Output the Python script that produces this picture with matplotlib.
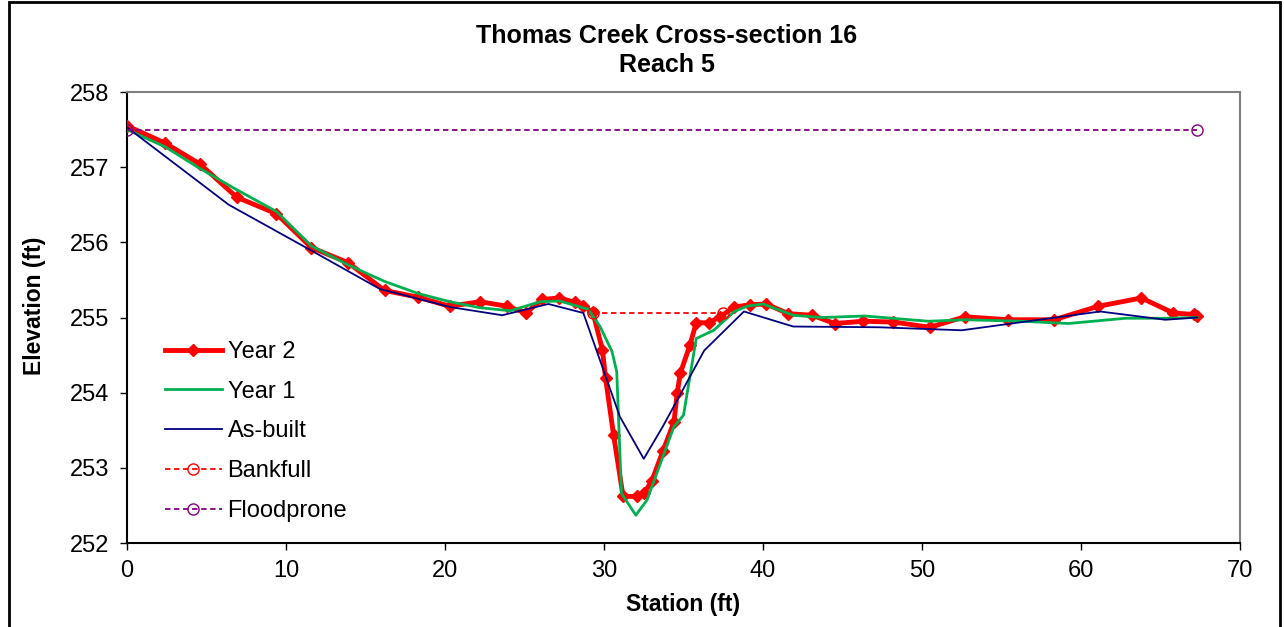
import matplotlib
matplotlib.use("Agg")
import matplotlib.pyplot as plt
from matplotlib.patches import Rectangle

plt.rcParams['font.family'] = ['Liberation Sans', 'DejaVu Sans']

# Year 2 survey
x_year2 = [0, 2.4, 4.6, 6.9, 9.4, 11.6, 13.9, 16.2, 18.3, 20.3, 22.2, 23.9, 25.1,
           26.1, 27.2, 28.2, 28.7, 29.3, 29.9, 30.1, 30.6, 31.2, 32.1, 32.5, 33.0,
           33.7, 34.4, 34.6, 34.8, 35.4, 35.8, 36.6, 37.3, 38.2, 39.2, 40.2, 41.6,
           43.1, 44.5, 46.3, 48.2, 50.5, 52.7, 55.4, 58.3, 61.1, 63.8, 65.8, 67.1, 67.3]
y_year2 = [257.55, 257.32, 257.04, 256.60, 256.38, 255.93, 255.73, 255.36, 255.27,
           255.15, 255.21, 255.15, 255.06, 255.24, 255.26, 255.20, 255.15, 255.07,
           254.57, 254.19, 253.44, 252.62, 252.62, 252.66, 252.82, 253.22, 253.61,
           253.99, 254.26, 254.63, 254.93, 254.93, 255.01, 255.14, 255.17, 255.18,
           255.05, 255.03, 254.92, 254.95, 254.94, 254.87, 255.01, 254.97, 254.97,
           255.15, 255.26, 255.06, 255.04, 255.02]

# Year 1 survey
x_year1 = [0, 2.4, 4.6, 6.9, 9.4, 11.6, 13.9, 16.2, 18.3, 20.3, 22.2, 24.1, 26.0,
           27.2, 29.0, 29.75, 30.5, 30.8, 31.1, 32.0, 32.7, 34.4, 35.0, 35.8, 36.9,
           38.2, 39.0, 40.0, 41.9, 43.7, 46.4, 50.4, 52.7, 56.3, 59.2, 62.8, 65.2, 67.3]
y_year1 = [257.50, 257.27, 256.98, 256.70, 256.41, 255.95, 255.70, 255.48, 255.32,
           255.21, 255.13, 255.09, 255.21, 255.22, 255.11, 254.88, 254.55, 254.28,
           252.66, 252.37, 252.57, 253.55, 253.70, 254.72, 254.83, 255.08, 255.15,
           255.18, 255.03, 255.00, 255.02, 254.95, 254.97, 254.95, 254.92, 254.99,
           254.99, 255.00]

# As-built survey
x_asbuilt = [0, 6.4, 11.6, 15.9, 20.3, 23.6, 26.5, 28.7, 31.0, 32.5, 33.7, 36.3,
             38.8, 41.9, 47.3, 52.5, 61.2, 65.3, 67.3]
y_asbuilt = [257.53, 256.50, 255.89, 255.38, 255.14, 255.03, 255.18, 255.06, 253.68,
             253.12, 253.55, 254.56, 255.08, 254.88, 254.87, 254.83, 255.08, 254.97, 255.00]

x_bankfull = [29.3, 37.5]
y_bankfull = [255.06, 255.06]
x_flood = [0, 67.3]
y_flood = [257.5, 257.5]

W, H = 1284, 627
fig = plt.figure(figsize=(W / 100, H / 100), dpi=100)
ax = fig.add_axes([127 / W, 1 - 543 / H, (1240 - 127) / W, (543 - 92) / H])

ax.plot(x_year2, y_year2, color='#FF0000', lw=3.5, marker='D', ms=6,
        label='Year 2', zorder=3)
ax.plot(x_year1, y_year1, color='#00B050', lw=2.0, label='Year 1', zorder=4)
ax.plot(x_asbuilt, y_asbuilt, color='#000080', lw=1.3, label='As-built', zorder=5)
ax.plot(x_bankfull, y_bankfull, color='#FF0000', lw=1.3, ls=(0, (3, 2)),
        marker='o', ms=8, mfc='none', label='Bankfull', zorder=6)
ax.plot(x_flood, y_flood, color='#800080', lw=1.3, ls=(0, (3, 2)),
        marker='o', ms=8, mfc='none', label='Floodprone', zorder=6)

ax.set_xlim(0, 70)
ax.set_ylim(252, 258)
ax.set_xticks(range(0, 71, 10))
ax.set_yticks(range(252, 259))
ax.tick_params(labelsize=17, direction='out', length=5, width=1, pad=7)
ax.tick_params(axis='y', pad=8)
ax.spines['top'].set_color('#808080')
ax.spines['right'].set_color('#808080')
ax.spines['top'].set_linewidth(1.5)
ax.spines['right'].set_linewidth(1.5)
ax.spines['left'].set_linewidth(1.5)
ax.spines['bottom'].set_linewidth(1.5)

fig.text(667 / W, 1 - 36 / H, 'Thomas Creek Cross-section 16', ha='center',
         va='center', fontsize=18, fontweight='bold')
fig.text(667 / W, 1 - 65.5 / H, 'Reach 5', ha='center', va='center',
         fontsize=18, fontweight='bold')
fig.text(683 / W, 1 - 605 / H, 'Station (ft)', ha='center', va='center',
         fontsize=16.5, fontweight='bold')
fig.text(34 / W, 1 - 306 / H, 'Elevation (ft)', ha='center', va='center',
         fontsize=16.5, fontweight='bold', rotation=90)

ax.legend(loc='upper left', bbox_to_anchor=(165 / W, 1 - 341 / H),
          bbox_transform=fig.transFigure, frameon=False, fontsize=17,
          handlelength=2.4, handletextpad=0.25, labelspacing=0.75,
          borderpad=0, borderaxespad=0)

fig.add_artist(Rectangle((9 / W, -0.05), (1280 - 9) / W, 1.05 - 2 / H,
                         transform=fig.transFigure, fill=False, ec='black',
                         lw=2, clip_on=False))

fig.savefig('out.png', dpi=100)
